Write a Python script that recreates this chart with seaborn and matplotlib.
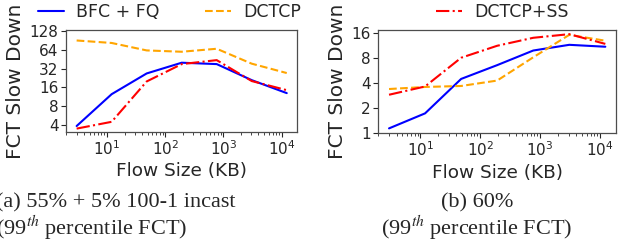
import numpy as np
import pandas as pd
import seaborn as sns
import matplotlib
matplotlib.use("Agg")
import matplotlib.pyplot as plt
from matplotlib.ticker import FixedLocator, FixedFormatter, NullLocator

flow_kb = [3, 12, 48, 192, 768, 3072, 12288]

# (a) 55% + 5% 100-1 incast
a_bfc = [3.85, 12.5, 26.9, 40, 38, 21, 13.0]
a_dctcp = [91, 83, 63, 60, 67, 38.6, 27.3]
a_ss = [3.5, 4.5, 20, 38, 44, 20.3, 14.5]

# (b) 60%
b_bfc = [1.14, 1.73, 4.5, 6.6, 9.9, 11.6, 11.0]
b_dctcp = [3.4, 3.6, 3.7, 4.3, 8.2, 15.3, 13.0]
b_ss = [2.9, 3.65, 8.1, 11.3, 14.1, 15.6, 11.9]

a_yticks = [4, 8, 16, 32, 64, 128]
b_yticks = [1, 2, 4, 8, 16]

series_names = ["BFC + FQ", "DCTCP", "DCTCP+SS"]
colors = ["blue", "orange", "red"]
styles = ["-", "--", "-."]

sns.set_style("ticks")
plt.rcParams["font.family"] = ["DejaVu Sans"]

fig = plt.figure(figsize=(6.18, 2.42), dpi=100)
ax1 = fig.add_axes([0.107, 0.455, 0.374, 0.421])
ax2 = fig.add_axes([0.612, 0.450, 0.385, 0.426])

panels = [
    (ax1, [a_bfc, a_dctcp, a_ss], a_yticks, (3.1, 134)),
    (ax2, [b_bfc, b_dctcp, b_ss], b_yticks, (1, 17.5)),
]

for ax, data, yt, yl in panels:
    for name, vals, c, ls in zip(series_names, data, colors, styles):
        df = pd.DataFrame({"x": flow_kb, "y": vals})
        sns.lineplot(data=df, x="x", y="y", ax=ax, color=c, linestyle=ls,
                     linewidth=1.5, label=name, legend=False)
    ax.set_xscale("log")
    ax.set_yscale("log", base=2)
    ax.set_ylim(*yl)
    ax.yaxis.set_major_locator(FixedLocator(yt))
    ax.yaxis.set_major_formatter(FixedFormatter([str(v) for v in yt]))
    ax.yaxis.set_minor_locator(NullLocator())
    ax.set_xlabel("Flow Size (KB)", fontsize=13.3, labelpad=3)
    ax.set_ylabel("FCT Slow Down", fontsize=14.5, labelpad=3)
    ax.tick_params(axis="both", which="major", labelsize=11, length=3.5, width=0.8, pad=2)
    ax.tick_params(axis="x", which="minor", length=2, width=0.6)
    for s in ax.spines.values():
        s.set_linewidth(0.9)
        s.set_color("0.3")

h1, l1 = ax1.get_legend_handles_labels()
h2, l2 = ax2.get_legend_handles_labels()
ax1.legend(h1[:2], l1[:2], loc="lower center", bbox_to_anchor=(0.446, 1.0), ncol=2,
           frameon=False, fontsize=12.5, handlelength=1.5, columnspacing=2.6,
           borderaxespad=0.1, handletextpad=0.7)
ax2.legend(h2[2:], l2[2:], loc="lower center", bbox_to_anchor=(0.52, 1.0), ncol=1,
           frameon=False, fontsize=12.5, handlelength=1.5,
           borderaxespad=0.1, handletextpad=0.7)

cap_font = ["Liberation Serif", "DejaVu Serif"]
fig.text(-0.006, 1 - 207 / 242, "(a) 55% + 5% 100-1 incast", family=cap_font,
         fontsize=16, ha="left", va="baseline")
fig.text(-0.006, 1 - 235 / 242, r"(99$^{th}$ percentile FCT)", family=cap_font,
         fontsize=16, ha="left", va="baseline", math_fontfamily="stix")
fig.text(477 / 618, 1 - 207 / 242, "(b) 60%", family=cap_font,
         fontsize=16, ha="center", va="baseline")
fig.text(477 / 618, 1 - 235 / 242, r"(99$^{th}$ percentile FCT)", family=cap_font,
         fontsize=16, ha="center", va="baseline", math_fontfamily="stix")

fig.savefig("out.png", dpi=100)
